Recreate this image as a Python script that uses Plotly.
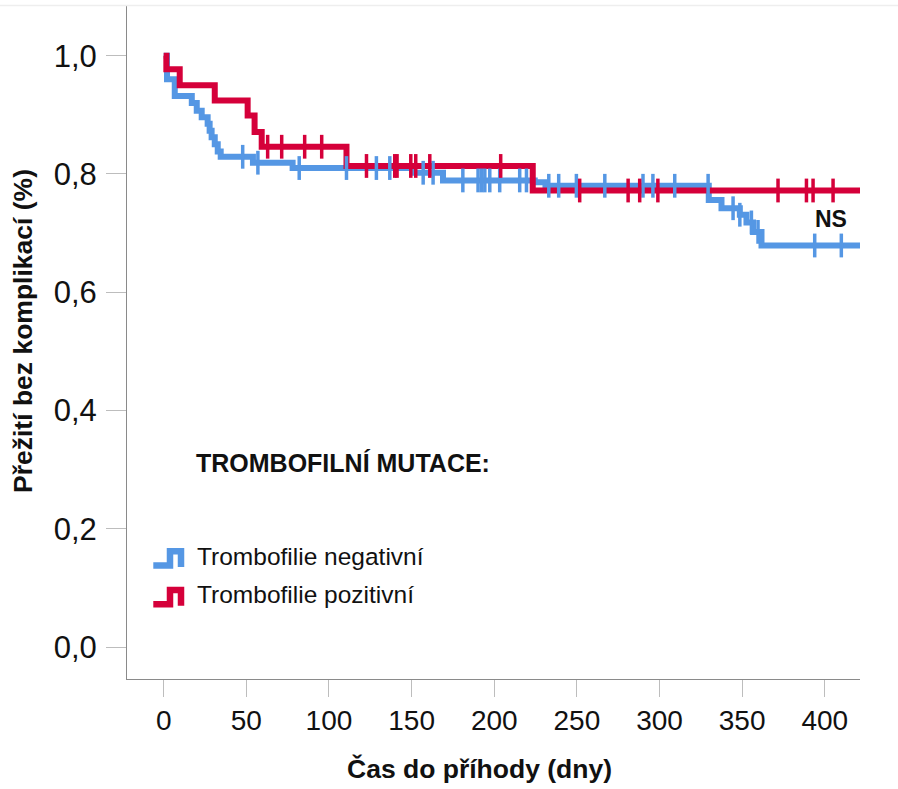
import plotly.graph_objects as go

# ---------------- data ----------------
# Kaplan-Meier step curves: time of each step (days) and survival after it
neg_times = [0, 2, 6.7, 17, 20, 23, 26.6, 27.8, 29, 30.9, 32.7, 34.5, 54, 78,
             150.9, 169, 224.5, 231, 329.8, 337.5, 348.6, 352.6, 356.6, 361.7]
neg_surv = [1.0, 0.960, 0.932, 0.920, 0.907, 0.896, 0.885, 0.873, 0.862, 0.850,
            0.838, 0.829, 0.819, 0.810, 0.802, 0.789, 0.786, 0.780, 0.756, 0.742,
            0.731, 0.718, 0.702, 0.679]
neg_censored = [47.8, 57, 82, 110.6, 128.7, 136.8, 157, 163, 181, 190.2, 192.3,
                194.3, 197.3, 203.3, 215.4, 219.5, 233, 239, 249.7, 266.9, 290,
                296, 309.2, 329.4, 344.5, 348.6, 355.6, 359.6, 393.9, 410]

pos_times = [0, 1.6, 9.7, 30.9, 50.8, 55, 59.3, 110.6, 223.3]
pos_surv = [1.0, 0.977, 0.950, 0.924, 0.899, 0.871, 0.846, 0.8135, 0.772]
pos_censored = [62.9, 71.4, 85.3, 95.6, 122.7, 139.8, 141.2, 149.5, 152.5, 161,
                203.9, 251.7, 281, 288, 299, 371.7, 388.9, 392.9, 405]

follow_up_end = 421.3

x_ticks = [0, 50, 100, 150, 200, 250, 300, 350, 400]
y_ticks = [0.0, 0.2, 0.4, 0.6, 0.8, 1.0]
y_tick_text = ["0,0", "0,2", "0,4", "0,6", "0,8", "1,0"]

series_names = ["Trombofilie negativní", "Trombofilie pozitivní"]
legend_title = "TROMBOFILNÍ MUTACE:"
x_title = "Čas do příhody (dny)"
y_title = "Přežití bez komplikací (%)"
note_text = "NS"

BLUE = "#5597E4"
RED = "#D5003A"

# ---------------- figure ----------------
W, H = 898, 789
ML, MR, MT, MB = 127, 38, 6, 110
PW, PH = W - ML - MR, H - MT - MB


def px(x):
    return (x - ML) / PW


def py(y):
    return (H - MB - y) / PH


def surv_at(times, surv, t):
    s = surv[0]
    for ti, si in zip(times, surv):
        if ti <= t:
            s = si
    return s


fig = go.Figure()

curves = [
    (neg_times, neg_surv, neg_censored, BLUE, series_names[0]),
    (pos_times, pos_surv, pos_censored, RED, series_names[1]),
]

for times, surv, _, color, name in curves:
    fig.add_trace(go.Scatter(
        x=list(times) + [follow_up_end], y=list(surv) + [surv[-1]],
        mode="lines", line=dict(color=color, width=6, shape="hv"),
        name=name, showlegend=False, hoverinfo="skip"))

for times, surv, cens, color, name in curves:
    fig.add_trace(go.Scatter(
        x=cens, y=[surv_at(times, surv, t) for t in cens],
        mode="markers",
        marker=dict(symbol="line-ns", size=17, color=color,
                    line=dict(color=color, width=3.5)),
        name=name + " (cenzorováno)", showlegend=False, hoverinfo="skip"))

font_main = "Liberation Sans, Arial, sans-serif"

fig.update_layout(
    width=W, height=H,
    margin=dict(l=ML, r=MR, t=MT, b=MB, pad=0),
    paper_bgcolor="white", plot_bgcolor="white",
    showlegend=False,
    font=dict(family=font_main, color="#111111"),
    xaxis=dict(range=[-22.2, follow_up_end], tickvals=x_ticks,
               ticktext=[str(v) for v in x_ticks],
               showgrid=False, zeroline=False,
               showline=True, linecolor="#8a8a8a", linewidth=1,
               ticks="outside", ticklen=17, tickcolor="#bdbdbd", tickwidth=1,
               tickfont=dict(family=font_main, size=28, color="#111111"),
               ticklabelstandoff=-1),
    yaxis=dict(range=[-0.0541, 1.084], tickvals=y_ticks, ticktext=y_tick_text,
               showgrid=False, zeroline=False,
               showline=True, linecolor="#8a8a8a", linewidth=1,
               ticks="outside", ticklen=20, tickcolor="#bdbdbd", tickwidth=1,
               tickfont=dict(family=font_main, size=31, color="#111111"),
               ticklabelstandoff=3),
)

# faint top border line
fig.add_shape(type="line", xref="paper", yref="paper",
              x0=px(0), x1=px(W), y0=py(5.5), y1=py(5.5),
              line=dict(color="#eeeeee", width=1.5))

# axis titles
fig.add_annotation(text=f"<b>{x_title}</b>", xref="paper", yref="paper",
                   x=px(479), y=py(769), xanchor="center", yanchor="middle",
                   showarrow=False, font=dict(family=font_main, size=26.5, color="#111111"))
fig.add_annotation(text=f"<b>{y_title}</b>", xref="paper", yref="paper",
                   x=px(23.5), y=py(331.5), xanchor="center", yanchor="middle",
                   textangle=-90, showarrow=False,
                   font=dict(family=font_main, size=26.5, color="#111111"))

# NS note
fig.add_annotation(text=f"<b>{note_text}</b>", xref="paper", yref="paper",
                   x=px(831), y=py(218.5), xanchor="center", yanchor="middle",
                   showarrow=False, font=dict(family=font_main, size=23, color="#111111"))

# legend (manual)
fig.add_annotation(text=f"<b>{legend_title}</b>", xref="paper", yref="paper",
                   x=px(194), y=py(463), xanchor="left", yanchor="middle",
                   showarrow=False, font=dict(family=font_main, size=25, color="#111111"))

legend_rows = [(series_names[0], BLUE, 0.0), (series_names[1], RED, 38.7)]
for label, color, dy in legend_rows:
    pts = [(153.3, 565.5 + dy), (170, 565.5 + dy), (170, 551.3 + dy),
           (181, 551.3 + dy), (181, 567 + dy)]
    path = "M " + " L ".join(f"{px(a):.5f},{py(b):.5f}" for a, b in pts)
    fig.add_shape(type="path", xref="paper", yref="paper", path=path,
                  line=dict(color=color, width=6.5))
    fig.add_annotation(text=label, xref="paper", yref="paper",
                       x=px(195), y=py(556 + dy), xanchor="left", yanchor="middle",
                       showarrow=False, font=dict(family=font_main, size=24.5, color="#111111"))

fig.write_html("out.html")
